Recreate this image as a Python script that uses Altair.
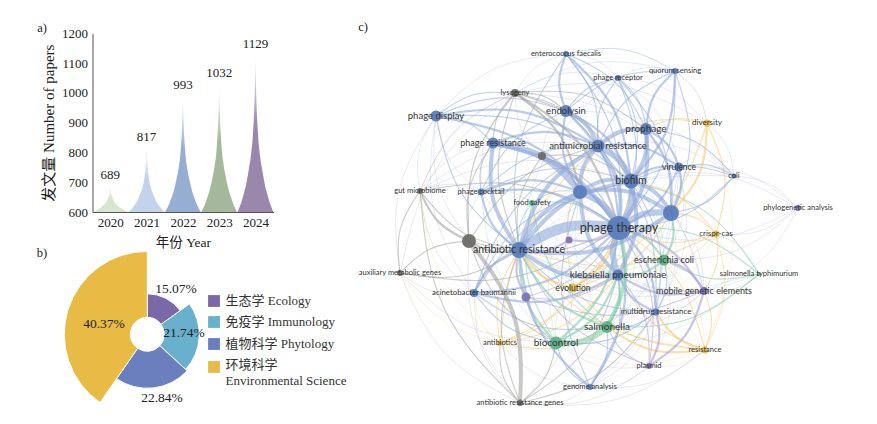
import math
import altair as alt
import pandas as pd

# ---------- panel a ----------
years = [2020, 2021, 2022, 2023, 2024]
papers = [689, 817, 993, 1032, 1129]
spike_colors = ["#d9e5d0", "#c3d3ec", "#97aed3", "#a6b89c", "#9a87ac"]
y_ticks = [600, 700, 800, 900, 1000, 1100, 1200]
# spike silhouette: height fraction and half width (in years)
spike_height = [0, .03, .06, .11, .16, .22, .33, .44, .55, .65, .80, 1]
spike_half = [.49, .44, .39, .33, .27, .22, .14, .085, .055, .035, .015, 0]

# ---------- panel b ----------
fields = ["生态学 Ecology", "免疫学 Immunology", "植物科学 Phytology", "环境科学\nEnvironmental Science"]
shares = [15.07, 21.74, 22.84, 40.37]
share_text = ["15.07%", "21.74%", "22.84%", "40.37%"]
field_colors = ["#7a68a8", "#68b0cc", "#6b7fbf", "#e8bb44"]
field_radius = [40.5, 52, 54, 83]

# ---------- panel c ----------
node_keys = ["PT","U1","BF","U2","AMR","PP","EL","PR","PD","LY","EF","PRC","QS","DV","VR","CO","PA","GY","GM","PC","FS",
             "GB","AR","PU","KP","EC","CC","ST","MG","MD","SA","RS","PL","GA","BC","AB","PV","EV","AC","AM","AG"]
node_labels = ["phage therapy","","biofilm","","antimicrobial resistance","prophage","endolysin","phage resistance",
               "phage display","lysogeny","enterococcus faecalis","phage receptor","quorum sensing","diversity","virulence",
               "coli","phylogenetic analysis","","gut microbiome","phage cocktail","food safety","","antibiotic resistance","",
               "klebsiella pneumoniae","escherichia coli","crispr-cas","salmonella typhimurium","mobile genetic elements",
               "multidrug resistance","salmonella","resistance","plasmid","genome analysis","biocontrol","antibiotics","",
               "evolution","acinetobacter baumannii","auxiliary metabolic genes","antibiotic resistance genes"]
node_x = [619,671,631,580,598,646,566,493,436,515,566,618,675,707,679,734,798,542,420,481,532,
          469,519,569,618,664,716,759,704,656,607,705,649,590,556,500,526,573,474,400,520]
node_y = [228,213,181,192,146,129,111,143,116,93,54,78,71,123,167,176,208,156,191,192,203,
          241,250,240,275,260,234,274,291,312,327,350,366,387,343,343,297,288,293,273,403]
node_r = [12,8,7.5,7,6.5,6,6,5.5,5.5,4,3,3,3,3.5,4.5,2.5,3,4,3,3.5,3,
          7,8,3.5,5.5,5.5,3.5,2,4,3.5,6,3.5,3,3,6.5,3,4.5,4.5,4,3,3]
node_group = ["b","b","b","b","b","b","b","b","b","k","b","b","b","o","b","b","p","k","k","b","g",
              "k","b","p","b","g","o","g","p","b","g","o","p","b","g","o","p","o","b","k","k"]
label_size = [12.5,8,10.5,8,9.5,10,9.5,9,9.5,7.5,7.5,7.5,7.5,8,8.5,7.5,7.5,8,7.5,7.5,7.5,
              8,10.5,8,10,9,8,7.5,9,8,10,7.5,7.5,7.5,10,7.5,8,8.5,7.8,7.5,7.5]

links_w7 = "PT-AR"
links_w5 = "PT-BF PT-U1 PT-KP PT-U2 PR-U2 SA-BC AMR-BF"
links_w3 = ("AR-U2 AMR-U2 BF-U2 U1-BF AMR-AR GB-AG AMR-PT SA-PT KP-AR AR-BF U1-AR EL-AMR PR-PT PR-AR KP-U2 PP-PT "
            "PP-BF PP-AMR KP-BF U2-U1")
links_w2 = ("EL-PT EL-BF EL-U2 PP-U1 PR-AMR PD-AMR PD-PT AC-AR AC-KP AC-PT QS-BF QS-PP VR-PT VR-BF VR-AMR VR-U1 VR-PP "
            "EF-EL EF-BF MG-KP MG-PT MG-EC BC-KP BC-AR BC-PT SA-KP SA-AR EC-PT EC-U1 EC-KP DV-U1 RS-SA RS-MD MD-KP MD-PT "
            "PC-AR PC-PT PC-U2 GB-GM GB-AR LY-U2 LY-PT PL-MG PL-MD EV-AR EV-PT GA-PT GA-AR PV-AR PU-AR PU-PT")
links_w1 = ("QS-AMR QS-PT QS-U1 QS-EL EF-PT EF-AMR EF-PP EF-AR PRC-PP PRC-PT PRC-U1 PRC-AMR PRC-EL PRC-BF LY-EL LY-PR LY-AMR LY-BF LY-GB "
            "LY-PP LY-AR GY-U2 GY-PT GY-AR GY-BF GM-AR GM-PT GM-AG FS-SA FS-PT FS-AR FS-U2 FS-BC ST-SA ST-EC ST-BF ST-PT "
            "CC-PT CC-U1 CC-BF CC-AR CC-MG DV-CC DV-EV DV-AMR DV-PP RS-MG RS-KP RS-PT RS-AR RS-EV AB-AR AB-KP AB-SA AB-EV AB-PT AB-AMR "
            "AC-BF AC-U2 AC-AMR AC-SA AC-BC PD-EL PD-PR PD-AR PD-BF PD-LY PC-EL PC-AMR PC-BF PC-PR CO-U1 CO-BF CO-PT CO-PP CO-VR "
            "MD-AR MD-SA MD-BF MD-AMR MD-EC MD-BC PL-KP PL-AR PL-PT PL-SA GA-SA GA-BC GA-KP GA-U2 PV-KP PV-PT PV-MG PV-BC "
            "EV-KP EV-BF EV-U1 EV-AMR AG-BC AG-AB AG-AR AG-KP AG-MD GB-PR GB-AMR GB-PT GB-BC AM-GB AM-AR AM-PT AM-GM")
links_w05 = ("PA-CO PA-PT PA-CC PA-BF PA-EC PA-MG PA-VR ST-MG ST-KP ST-CC ST-AR ST-BC CO-DV CO-EL CO-AMR CO-AR QS-DV QS-EF QS-PRC QS-LY "
             "DV-VR DV-BF DV-RS DV-QS EF-PD EF-LY EF-PRC EF-QS PD-GM PD-PC PD-GB PD-AC AM-AC AM-AG AM-PD AM-LY AM-BC AG-GA AG-PL AG-RS AG-EV "
             "AG-GB AG-AC RS-PL RS-CC RS-EC RS-BC PL-BC PL-GA PL-EC GA-MD GA-RS GA-EC GA-AB CC-RS CC-SA CC-KP CC-EC CC-VR AB-BC AB-AC AB-AM AB-GM "
             "GM-PR GM-PC GM-BF GM-AMR GM-LY GM-AC LY-GM LY-PC LY-VR LY-DV PC-FS PC-GB PC-KP PC-BC PRC-LY PRC-VR PRC-DV PRC-AR MG-AR MG-SA MG-BF "
             "MG-U1 MG-AMR MG-MD MD-VR MD-U1 EC-AMR EC-AR EC-BF EC-BC EC-SA EC-VR VR-AR VR-KP VR-SA FS-EC FS-KP FS-EV SA-EV SA-BF SA-U2 SA-U1 BC-BF "
             "BC-U2 BC-U1 BC-EV BC-MD PU-U2 PU-KP PU-BF PU-MG GY-LY GY-PR GY-AMR GY-EL")
# links that bend toward the middle of the map in the picture
inward_links = ["GB-AG", "PT-AR", "PT-KP", "PT-U1"]
link_tiers = [(links_w05, 0.6, 0.40), (links_w1, 1.1, 0.55), (links_w2, 2.2, 0.60),
              (links_w3, 4.0, 0.60), (links_w5, 6.2, 0.60), (links_w7, 10.0, 0.60)]

node_palette = {"b": "#5a7dbb", "k": "#6b6c68", "g": "#5cb088", "o": "#e8b94a", "p": "#8271bb"}
edge_palette = {"b": "#8fa9da", "k": "#a3a3a0", "g": "#84cba8", "o": "#f3ca74", "p": "#ab9cd8"}

# layout constants (image pixels) -------------------------------------------
W, H = 861, 408
SERIF = "Liberation Serif, Noto Sans CJK SC"
NET_FONT = "Lato"
CENTER = (600, 225)
BOW = 0.18

px_x = alt.Scale(domain=[8, 8 + W], range=[0, W])
px_y = alt.Scale(domain=[8, 8 + H], range=[0, H])


def px(**kw):
    return dict(x=alt.X("x:Q", scale=px_x, axis=None), y=alt.Y("y:Q", scale=px_y, axis=None), **kw)


# panel a --------------------------------------------------------------------
year_scale = alt.Scale(domain=[2019.5, 2024.5], range=[84.2, 265.6], nice=False)
paper_scale = alt.Scale(domain=[600, 1200], range=[204, 25.3], nice=False, zero=False)


def year_x(axis=None):
    return alt.X("x:Q", scale=year_scale, axis=axis)


def paper_y(axis=None):
    return alt.Y("y:Q", scale=paper_scale, axis=axis)


x_axis = alt.Axis(values=years, format="d", title="年份 Year", grid=False, ticks=False, labelFont=SERIF, titleFont=SERIF,
                  labelFontSize=13, titleFontSize=13.5, titleFontWeight="normal", labelColor="#222", titleColor="#222",
                  domainColor="#555", labelPadding=4, titlePadding=6, offset=-(H - 204), labelFlush=False,
                  labelOverlap=False)
y_axis = alt.Axis(values=y_ticks, format="d", title="发文量 Number of papers", grid=False, ticks=False, labelFont=SERIF,
                  titleFont=SERIF, labelFontSize=13, titleFontSize=15, titleFontWeight="normal", labelColor="#222",
                  titleColor="#222", domainColor="#555", labelPadding=5, titlePadding=5, offset=-84.5, labelFlush=False)

spike_layers = []
for k, (yr, val, col) in enumerate(zip(years, papers, spike_colors)):
    rows = []
    for f, h in zip(spike_height, spike_half):
        rows.append({"x": yr - h, "y": 600 + (val - 600) * f, "base": 600})
    for f, h in reversed(list(zip(spike_height, spike_half))[:-1]):
        rows.append({"x": yr + h, "y": 600 + (val - 600) * f, "base": 600})
    grad = alt.Gradient(gradient="linear", x1=0, x2=0, y1=1, y2=0,
                        stops=[alt.GradientStop(offset=0, color=col), alt.GradientStop(offset=0.55, color=col),
                               alt.GradientStop(offset=1, color="#ffffff")])
    spike_layers.append(
        alt.Chart(pd.DataFrame(rows)).mark_area(fill=grad, interpolate="linear", orient="vertical").encode(
            x=year_x(x_axis if k == 0 else None), y=paper_y(y_axis if k == 0 else None), y2=alt.Y2("base")
        )
    )

value_layer = alt.Chart(pd.DataFrame({"x": years, "y": papers, "t": [str(p) for p in papers]})).mark_text(
    font=SERIF, fontSize=13, color="#222", dy=-10, baseline="middle"
).encode(x=year_x(), y=paper_y(), text="t:N")

# panel b --------------------------------------------------------------------
PIE_X, PIE_Y = 147.3, 334.3
start_angle, end_angle, running = [], [], 0.0
for v in shares:
    start_angle.append(running / sum(shares) * 2 * math.pi)
    running += v
    end_angle.append(running / sum(shares) * 2 * math.pi)
pie_df = pd.DataFrame({"a0": start_angle, "a1": end_angle, "r": field_radius, "c": field_colors})
arc_layer = alt.Chart(pie_df).mark_arc(innerRadius=17, stroke="#ffffff", strokeWidth=1).encode(
    theta=alt.Theta("a0:Q", scale=None),
    theta2=alt.Theta2("a1"),
    radius=alt.Radius("r:Q", scale=None),
    color=alt.Color("c:N", scale=None),
    x=alt.value(PIE_X - 8),
    y=alt.value(PIE_Y - 8),
)
share_label_x, share_label_y = [176, 184, 162, 104], [289, 333, 398, 324]
share_layer = alt.Chart(pd.DataFrame({"x": share_label_x, "y": share_label_y, "t": share_text})).mark_text(
    font=SERIF, fontSize=13.5, color="#222"
).encode(**px(text="t:N"))

legend_x, legend_y = 214, [301, 322, 344, 367]
legend_sq = alt.Chart(pd.DataFrame({"x": [legend_x] * 4, "y": legend_y, "c": field_colors})).mark_point(
    shape="square", filled=True, size=140, opacity=1
).encode(**px(color=alt.Color("c:N", scale=None)))
legend_tx = alt.Chart(pd.DataFrame({"x": [225.5] * 4, "y": [301, 322, 344, 365], "t": fields})).mark_text(
    font=SERIF, fontSize=13, color="#333", align="left", baseline="middle", lineBreak="\n", lineHeight=16
).encode(**px(text="t:N"))

panel_layer = alt.Chart(pd.DataFrame({"x": [42, 42, 363], "y": [28, 253, 27], "t": ["a)", "b)", "c)"]})).mark_text(
    font=SERIF, fontSize=12.5, color="#222"
).encode(**px(text="t:N"))

# panel c --------------------------------------------------------------------
pos = {k: (x, y) for k, x, y in zip(node_keys, node_x, node_y)}
grp = dict(zip(node_keys, node_group))
rows, eid = [], 0
for text, width, op in link_tiers:
    for pair in text.split():
        a, b = pair.split("-")
        (x0, y0), (x1, y1) = pos[a], pos[b]
        mx, my = (x0 + x1) / 2, (y0 + y1) / 2
        dx, dy = x1 - x0, y1 - y0
        nx, ny = -dy, dx
        if nx * (mx - CENTER[0]) + ny * (my - CENTER[1]) < 0:
            nx, ny = -nx, -ny
        if pair in inward_links:
            nx, ny = -nx, -ny
        color = edge_palette[grp[a]]
        for i, (px_, py_) in enumerate([(x0, y0), (mx + BOW * nx, my + BOW * ny), (x1, y1)]):
            rows.append({"x": px_, "y": py_, "i": i, "e": eid, "w": width, "o": op, "c": color})
        eid += 1
edge_layer = alt.Chart(pd.DataFrame(rows)).mark_line(interpolate="basis", strokeCap="round").encode(
    **px(color=alt.Color("c:N", scale=None), strokeWidth=alt.StrokeWidth("w:Q", scale=None),
         opacity=alt.Opacity("o:Q", scale=None), detail="e:N", order=alt.Order("i:Q"))
)

node_df = pd.DataFrame({"x": node_x, "y": node_y, "s": [4 * r * r for r in node_r],
                        "c": [node_palette[g] for g in node_group], "t": node_labels, "f": label_size})
node_layer = alt.Chart(node_df).mark_circle(opacity=0.95).encode(
    **px(size=alt.Size("s:Q", scale=None), color=alt.Color("c:N", scale=None))
)
label_layer = alt.Chart(node_df[node_df.t != ""]).mark_text(font=NET_FONT, color="#333333", baseline="middle").encode(
    **px(text="t:N", size=alt.Size("f:Q", scale=None))
)

chart = alt.layer(
    edge_layer, node_layer, label_layer,
    *spike_layers, value_layer,
    arc_layer, share_layer, legend_sq, legend_tx, panel_layer,
).resolve_scale(x="independent", y="independent").properties(
    width=W, height=H, padding=0, autosize=alt.AutoSizeParams(type="none"), background="#ffffff"
).configure_view(stroke=None)

chart.save("out.html", embed_options={"renderer": "svg", "actions": False})
